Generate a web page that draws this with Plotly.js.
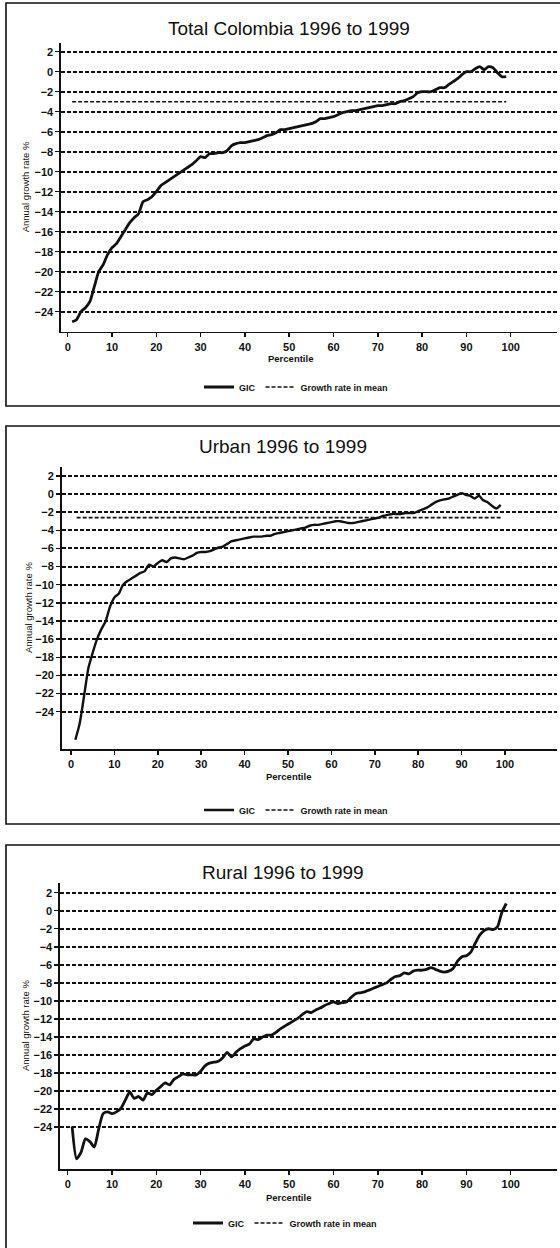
<!DOCTYPE html>
<html>
<head>
<meta charset="utf-8">
<script src="https://cdn.plot.ly/plotly-3.0.1.min.js"></script>
<style>
  html, body { margin: 0; padding: 0; background: #fff; }
  #chart { width: 560px; height: 1248px; }
</style>
</head>
<body>
<div id="chart"></div>
<script>
// ---------------- DATA ----------------
const panelTitles = ["Total Colombia 1996 to 1999", "Urban 1996 to 1999", "Rural 1996 to 1999"];
const xTitle = "Percentile";
const yTitle = "Annual growth rate %";
const seriesNames = ["GIC", "Growth rate in mean"];

const percentiles = [1,2,3,4,5,6,7,8,9,10,11,12,13,14,15,16,17,18,19,20,
  21,22,23,24,25,26,27,28,29,30,31,32,33,34,35,36,37,38,39,40,
  41,42,43,44,45,46,47,48,49,50,51,52,53,54,55,56,57,58,59,60,
  61,62,63,64,65,66,67,68,69,70,71,72,73,74,75,76,77,78,79,80,
  81,82,83,84,85,86,87,88,89,90,91,92,93,94,95,96,97,98,99];

const gicTotal = [-25.0,-24.8,-24.0,-23.6,-23.0,-21.5,-20.0,-19.3,-18.3,-17.6,
  -17.2,-16.5,-15.8,-15.1,-14.6,-14.2,-13.0,-12.8,-12.5,-12.0,
  -11.4,-11.1,-10.8,-10.5,-10.2,-9.9,-9.6,-9.3,-8.9,-8.5,
  -8.6,-8.2,-8.2,-8.1,-8.1,-7.9,-7.4,-7.2,-7.1,-7.1,
  -7.0,-6.9,-6.8,-6.6,-6.4,-6.3,-6.1,-5.8,-5.8,-5.7,
  -5.6,-5.5,-5.4,-5.3,-5.2,-5.0,-4.7,-4.7,-4.6,-4.5,
  -4.3,-4.1,-4.0,-3.9,-3.9,-3.8,-3.7,-3.6,-3.5,-3.4,
  -3.4,-3.3,-3.2,-3.2,-3.0,-2.9,-2.7,-2.5,-2.1,-2.0,
  -2.0,-2.0,-1.8,-1.6,-1.6,-1.3,-1.0,-0.7,-0.3,0.0,
  0.0,0.3,0.5,0.2,0.5,0.4,-0.1,-0.5,-0.5];

const gicUrban = [-27.1,-25.3,-22.3,-19.2,-17.5,-16.0,-14.9,-14.0,-12.4,-11.4,
  -11.0,-10.0,-9.6,-9.3,-9.0,-8.7,-8.5,-7.8,-8.0,-7.6,
  -7.3,-7.5,-7.1,-7.0,-7.1,-7.2,-7.0,-6.8,-6.5,-6.4,
  -6.4,-6.3,-6.1,-5.9,-5.8,-5.5,-5.2,-5.1,-5.0,-4.9,
  -4.8,-4.7,-4.7,-4.7,-4.6,-4.6,-4.4,-4.3,-4.2,-4.1,
  -4.0,-3.9,-3.8,-3.7,-3.5,-3.4,-3.4,-3.3,-3.2,-3.1,
  -3.0,-3.0,-3.1,-3.2,-3.2,-3.1,-3.0,-2.9,-2.8,-2.7,
  -2.6,-2.4,-2.3,-2.2,-2.2,-2.2,-2.1,-2.1,-2.1,-1.9,
  -1.7,-1.5,-1.2,-0.9,-0.7,-0.6,-0.5,-0.3,-0.1,0.1,
  -0.1,-0.2,-0.5,-0.2,-0.7,-0.9,-1.3,-1.6,-1.2];

const gicRural = [-23.9,-27.5,-26.8,-25.3,-25.6,-26.2,-24.2,-22.5,-22.3,-22.5,
  -22.3,-21.9,-21.0,-20.1,-20.8,-20.6,-21.0,-20.2,-20.4,-19.9,
  -19.5,-19.1,-19.3,-18.7,-18.4,-18.1,-18.2,-18.2,-18.2,-17.8,
  -17.2,-16.9,-16.8,-16.7,-16.3,-15.7,-16.2,-15.7,-15.3,-15.0,
  -14.8,-14.2,-14.3,-14.0,-13.8,-13.8,-13.5,-13.1,-12.8,-12.5,
  -12.2,-11.9,-11.5,-11.2,-11.3,-11.0,-10.8,-10.5,-10.3,-10.1,
  -10.3,-10.2,-10.1,-9.6,-9.2,-9.1,-9.0,-8.8,-8.6,-8.4,
  -8.2,-8.0,-7.6,-7.3,-7.2,-6.9,-7.0,-6.7,-6.6,-6.6,
  -6.5,-6.3,-6.5,-6.7,-6.8,-6.7,-6.4,-5.6,-5.1,-5.0,
  -4.6,-3.6,-2.7,-2.2,-2.0,-2.1,-1.8,-0.2,0.8];

const meanRate = [-3.0, -2.6, -8.0];
const meanStart = [1, 1.3, 1];
const meanEnd = [99, 99.2, 98.7];

const xTickVals = [0,10,20,30,40,50,60,70,80,90,100];
const yTickVals = [2,0,-2,-4,-6,-8,-10,-12,-14,-16,-18,-20,-22,-24];

// ---------------- LAYOUT GEOMETRY (pixels) ----------------
const W = 560, H = 1248;
const gicSeries = [gicTotal, gicUrban, gicRural];
const geo = [
  {xl:61,   xr:557, x0:67.7, xs:4.43, yt:43,    yb:331.7,  y0:71.7,  ys:10.0,
   tx:289, ty:28,  xt:290, xty:358, lx:296, ly:387, ytx:25, box:[6,3,566,406], lw:[2.8,1.2]},
  {xl:61.7, xr:557, x0:71.0, xs:4.34, yt:466.7, yb:749.3,  y0:494.0, ys:9.07,
   tx:283, ty:447, xt:288, xty:776, lx:296, ly:810, ytx:28, box:[6,426,566,824], lw:[2.4,1.0]},
  {xl:60,   xr:557, x0:67.7, xs:4.43, yt:882.7, yb:1169.3, y0:910.7, ys:9.02,
   tx:283, ty:872, xt:288, xty:1197, lx:285, ly:1223, ytx:25, box:[6,845,566,1262], lw:[2.8,1.2]}
];
const FONT = "Liberation Sans, Arial, sans-serif";

const data = [];
const layout = {
  width: W, height: H,
  margin: {l:0, r:0, t:0, b:0, pad:0},
  paper_bgcolor: "#fff", plot_bgcolor: "#fff",
  font: {family: FONT, color: "#111"},
  showlegend: true,
  annotations: [],
  shapes: []
};

geo.forEach((g, i) => {
  const n = i === 0 ? "" : String(i + 1);
  const xa = "x" + n, ya = "y" + n;
  const legendId = "legend" + n;
  data.push({
    x: percentiles, y: gicSeries[i], xaxis: xa, yaxis: ya,
    type: "scatter", mode: "lines", name: seriesNames[0], legend: legendId,
    line: {color: "#111", width: g.lw[0], shape: "spline", smoothing: 0.6}
  });
  data.push({
    x: [meanStart[i], meanEnd[i]], y: [meanRate[i], meanRate[i]], xaxis: xa, yaxis: ya,
    type: "scatter", mode: "lines", name: seriesNames[1], legend: legendId,
    line: {color: "#111", width: 1.6, dash: "4px,2px"}
  });

  layout["xaxis" + n] = {
    domain: [g.xl / W, g.xr / W],
    range: [(g.xl - g.x0) / g.xs, (g.xr - g.x0) / g.xs],
    anchor: ya,
    tickvals: xTickVals,
    ticks: "outside", ticklen: 4, tickwidth: 1.5, tickcolor: "#111",
    showline: true, linecolor: "#111", linewidth: 1.6,
    showgrid: false, zeroline: false,
    tickfont: {family: FONT, size: 11, weight: "bold", color: "#111"},
    fixedrange: true
  };
  layout["yaxis" + n] = {
    domain: [1 - g.yb / H, 1 - g.yt / H],
    range: [(g.y0 - g.yb) / g.ys, (g.y0 - g.yt) / g.ys],
    anchor: xa,
    tickvals: yTickVals,
    ticks: "outside", ticklen: 4, tickwidth: 1.5, tickcolor: "#111",
    showline: true, linecolor: "#111", linewidth: 1.6,
    showgrid: true, gridcolor: "#111", gridwidth: 2, griddash: "4px,2px",
    zeroline: false,
    tickfont: {family: FONT, size: 11, weight: "bold", color: "#111"},
    fixedrange: true
  };
  layout[legendId] = {
    orientation: "h", x: g.lx / W, y: 1 - g.ly / H,
    xanchor: "center", yanchor: "middle",
    bgcolor: "rgba(0,0,0,0)", itemwidth: 30,
    font: {family: FONT, size: 9, weight: "bold", color: "#111"},
    tracegroupgap: 0
  };

  // panel title
  layout.annotations.push({
    text: panelTitles[i], xref: "paper", yref: "paper",
    x: g.tx / W, y: 1 - g.ty / H, xanchor: "center", yanchor: "middle",
    showarrow: false, font: {family: FONT, size: 19, color: "#111"}
  });
  // x axis title
  layout.annotations.push({
    text: xTitle, xref: "paper", yref: "paper",
    x: g.xt / W, y: 1 - g.xty / H, xanchor: "center", yanchor: "middle",
    showarrow: false, font: {family: FONT, size: 9.5, weight: "bold", color: "#111"}
  });
  // y axis title
  layout.annotations.push({
    text: yTitle, xref: "paper", yref: "paper", textangle: -90,
    x: g.ytx / W, y: 1 - (g.yt + g.yb) / 2 / H, xanchor: "center", yanchor: "middle",
    showarrow: false, font: {family: FONT, size: 9.5, color: "#111"}
  });
  // panel frame
  layout.shapes.push({
    type: "rect", xref: "paper", yref: "paper", layer: "above",
    x0: g.box[0] / W, x1: g.box[2] / W, y0: 1 - g.box[3] / H, y1: 1 - g.box[1] / H,
    line: {color: "#111", width: 1.6}, fillcolor: "rgba(0,0,0,0)"
  });
});

Plotly.newPlot("chart", data, layout, {displayModeBar: false, staticPlot: true});
</script>
</body>
</html>
